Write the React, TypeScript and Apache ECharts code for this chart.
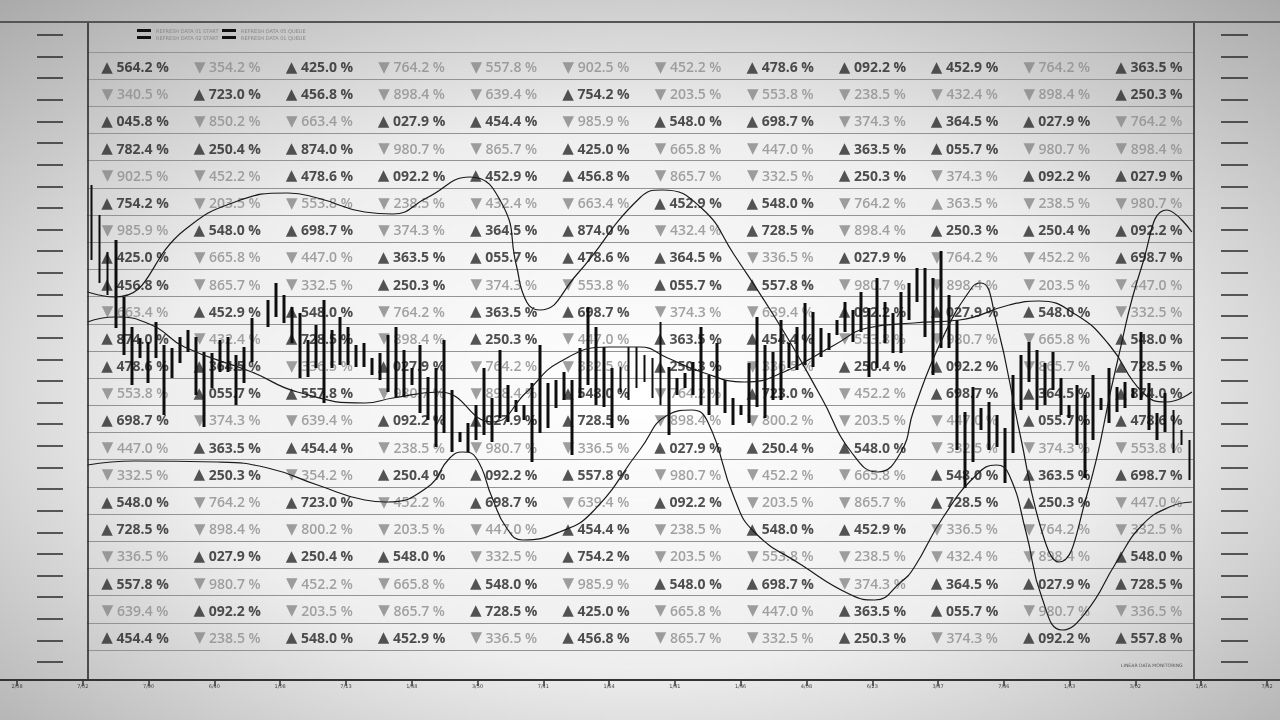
import React, { useEffect, useRef } from "react";
import * as echarts from "echarts";

// ---------- table data (22 rows x 12 columns) ----------
const rowValues: number[][] = [
  [564.2, 354.2, 425.0, 764.2, 557.8, 902.5, 452.2, 478.6, 92.2, 452.9, 764.2, 363.5],
  [340.5, 723.0, 456.8, 898.4, 639.4, 754.2, 203.5, 553.8, 238.5, 432.4, 898.4, 250.3],
  [45.8, 850.2, 663.4, 27.9, 454.4, 985.9, 548.0, 698.7, 374.3, 364.5, 27.9, 764.2],
  [782.4, 250.4, 874.0, 980.7, 865.7, 425.0, 665.8, 447.0, 363.5, 55.7, 980.7, 898.4],
  [902.5, 452.2, 478.6, 92.2, 452.9, 456.8, 865.7, 332.5, 250.3, 374.3, 92.2, 27.9],
  [754.2, 203.5, 553.8, 238.5, 432.4, 663.4, 452.9, 548.0, 764.2, 363.5, 238.5, 980.7],
  [985.9, 548.0, 698.7, 374.3, 364.5, 874.0, 432.4, 728.5, 898.4, 250.3, 250.4, 92.2],
  [425.0, 665.8, 447.0, 363.5, 55.7, 478.6, 364.5, 336.5, 27.9, 764.2, 452.2, 698.7],
  [456.8, 865.7, 332.5, 250.3, 374.3, 553.8, 55.7, 557.8, 980.7, 898.4, 203.5, 447.0],
  [663.4, 452.9, 548.0, 764.2, 363.5, 698.7, 374.3, 639.4, 92.2, 27.9, 548.0, 332.5],
  [874.0, 432.4, 728.5, 898.4, 250.3, 447.0, 363.5, 454.4, 553.8, 980.7, 665.8, 548.0],
  [478.6, 364.5, 336.5, 27.9, 764.2, 332.5, 250.3, 336.5, 250.4, 92.2, 865.7, 728.5],
  [553.8, 55.7, 557.8, 980.7, 898.4, 548.0, 764.2, 723.0, 452.2, 698.7, 364.5, 874.0],
  [698.7, 374.3, 639.4, 92.2, 27.9, 728.5, 898.4, 800.2, 203.5, 447.0, 55.7, 478.6],
  [447.0, 363.5, 454.4, 238.5, 980.7, 336.5, 27.9, 250.4, 548.0, 332.5, 374.3, 553.8],
  [332.5, 250.3, 354.2, 250.4, 92.2, 557.8, 980.7, 452.2, 665.8, 548.0, 363.5, 698.7],
  [548.0, 764.2, 723.0, 452.2, 698.7, 639.4, 92.2, 203.5, 865.7, 728.5, 250.3, 447.0],
  [728.5, 898.4, 800.2, 203.5, 447.0, 454.4, 238.5, 548.0, 452.9, 336.5, 764.2, 332.5],
  [336.5, 27.9, 250.4, 548.0, 332.5, 754.2, 203.5, 553.8, 238.5, 432.4, 898.4, 548.0],
  [557.8, 980.7, 452.2, 665.8, 548.0, 985.9, 548.0, 698.7, 374.3, 364.5, 27.9, 728.5],
  [639.4, 92.2, 203.5, 865.7, 728.5, 425.0, 665.8, 447.0, 363.5, 55.7, 980.7, 336.5],
  [454.4, 238.5, 548.0, 452.9, 336.5, 456.8, 865.7, 332.5, 250.3, 374.3, 92.2, 557.8],
];
// U = up (dark), D = down (grey), u = up (grey)
const rowTrends: string[] = [
  "UDUDDDDUUUDU",
  "DUUDDUDDDDDU",
  "UDDUUDUUDUUD",
  "UUUDDUDDUUDD",
  "DDUUUUDDUDUU",
  "UDDDDDUUDuDD",
  "DUUDUUDUDUUU",
  "UDDUUUUDUDDU",
  "UDDUDDUUDDDD",
  "DUUDUUDDUUUD",
  "UDUDUDUUDDDU",
  "UUDUDDUDUUDU",
  "DUUDDUDUDUUU",
  "UDDUUUDDDDUU",
  "DUUDDDUUUDDD",
  "DUDUUUDDDUUU",
  "UDUDUDUDDUUD",
  "UDDDDUDUUDDD",
  "DUUUDUDDDDDU",
  "UDDDUDUUDUUU",
  "DUDDUUDDUUDD",
  "UDUUDUDDUDUU",
];

// ---------- range bars (138 slots) ----------
const barHigh: (number | null)[] = [
  49.5, 46.5, 42.8, 44.0, 38.3, 35.3, 34.2, 33.8, 35.8, 33.5,
  33.2, 34.3, 35.0, 34.3, 32.8, 32.7, 34.0, 34.3, 32.5, 33.3,
  36.2, null, 38.0, 39.7, 38.5, 37.3, 36.7, 34.0, 35.5, 38.0,
  35.0, 36.3, 35.3, 33.5, 33.7, 32.2, 32.7, 34.5, 35.3, 33.0,
  31.2, 33.5, 30.3, 31.2, 34.0, 29.0, 24.8, 25.7, 27.5, 31.2,
  28.2, 33.0, 29.5, 28.0, 27.5, 29.7, 33.5, 29.7, 30.0, 30.8,
  30.0, 33.2, 37.3, 35.3, 33.3, 31.2, 31.3, 33.3, 33.3, 32.5,
  32.2, 35.8, 31.3, 30.2, 30.7, 31.8, 35.3, 30.5, 33.7, 30.0,
  28.2, 27.5, 31.7, 36.3, 33.5, 32.8, 36.0, 33.7, 35.3, 37.7,
  36.8, 35.2, 34.7, 36.0, 37.8, 37.0, 38.8, 37.2, 40.2, 37.8,
  36.7, 38.8, 39.7, 41.2, 41.2, 40.2, 42.9, 38.5, 36.0, 26.8,
  29.3, 27.2, 27.8, 26.5, 25.2, 30.5, 32.5, 33.8, 33.0, 31.7,
  32.8, 30.2, 27.5, 29.5, 28.5, 30.5, 28.2, 31.2, 29.3, 29.8,
  29.2, 34.8, 29.7, 26.7, 28.7, 27.0, 25.0, 24.0,
];
const barLow: (number | null)[] = [
  42.0, 39.7, 38.5, 35.2, 32.5, 29.5, 32.2, 29.7, 32.2, 26.5,
  30.2, 31.7, 32.8, 28.5, 25.3, 29.2, 30.8, 30.8, 27.5, 29.7,
  31.8, null, 35.3, 36.3, 35.7, 33.7, 30.2, 30.3, 31.2, 27.7,
  31.2, 31.5, 31.5, 31.3, 31.3, 30.5, 30.0, 28.8, 28.3, 28.3,
  29.5, 26.7, 26.0, 23.3, 24.7, 22.8, 23.8, 22.8, 24.0, 24.5,
  23.8, 26.2, 25.8, 26.8, 26.0, 21.8, 24.7, 25.2, 27.2, 28.0,
  22.5, 28.2, 29.5, 27.5, 27.3, 25.2, 28.8, 28.0, 29.2, 29.8,
  28.2, 27.5, 24.5, 28.5, 29.2, 28.5, 27.5, 26.5, 27.5, 26.7,
  25.5, 26.5, 25.7, 27.3, 26.2, 28.0, 28.0, 31.2, 31.0, 31.5,
  31.3, 32.3, 33.0, 34.5, 34.8, 33.8, 34.8, 30.3, 31.2, 33.7,
  32.7, 32.7, 36.0, 37.8, 34.3, 30.5, 33.2, 33.2, 23.0, 19.2,
  21.8, 25.0, 23.0, 23.3, 19.7, 22.7, 27.0, 29.8, 27.0, 27.5,
  29.0, 26.5, 26.2, 23.5, 20.2, 24.0, 27.0, 25.7, 26.8, 27.2,
  28.2, 28.0, 25.0, 24.0, 24.8, 22.7, 23.5, 20.0,
];

// ---------- smooth curves: [slot position, value] ----------
const curveA: number[][] = [
  [-0.5, 38.8], [2.9, 38.3], [11.6, 45.0], [17.9, 47.8], [24.5, 48.7], [28.2, 48.2],
  [34.1, 46.8], [37.6, 46.6], [41.8, 48.2], [47.2, 50.3], [51.3, 47.5], [53.0, 41.5],
  [54.3, 37.8], [55.9, 37.0], [60.5, 40.5], [68.4, 48.2], [71.2, 49.0], [76.1, 47.2],
  [80.2, 42.5], [86.4, 34.8], [91.1, 28.2], [94.8, 22.8], [98.1, 20.8], [101.0, 22.8],
  [102.6, 27.0], [106.2, 34.2], [109.9, 39.3], [111.0, 39.7], [112.9, 35.8], [115.8, 24.8],
  [118.6, 14.8], [120.7, 11.8], [124.1, 18.2], [127.9, 31.5], [131.1, 41.5], [134.2, 47.0],
  [137.3, 44.8],
];
const curveB: number[][] = [
  [-0.5, 35.8], [2.9, 36.3], [7.5, 35.5], [11.6, 33.3], [20.0, 30.8], [25.7, 28.8],
  [34.1, 27.7], [37.6, 28.2], [43.4, 28.8], [50.0, 25.8], [54.3, 28.8], [58.4, 31.8],
  [64.6, 33.3], [68.4, 33.3], [71.9, 32.2], [76.1, 30.8], [81.5, 29.8], [86.4, 30.8],
  [92.7, 33.5], [96.8, 35.2], [102.6, 35.7], [108.3, 36.0], [114.5, 37.5], [118.2, 37.9],
  [122.9, 36.5], [127.0, 33.5], [131.1, 28.8], [134.1, 27.8], [137.3, 28.8],
];
const curveC: number[][] = [
  [-0.5, 21.5], [5.4, 21.9], [15.7, 21.8], [22.0, 21.2], [28.2, 19.5], [34.1, 18.0],
  [36.8, 17.8], [41.8, 19.2], [44.7, 22.2], [46.3, 22.8], [48.0, 22.2], [50.0, 18.2],
  [51.8, 15.2], [53.8, 14.0], [58.4, 14.8], [62.5, 16.8], [68.4, 23.0], [71.9, 26.5],
  [74.9, 27.0], [76.9, 25.8], [80.2, 18.2], [82.7, 14.8], [88.6, 11.5], [94.8, 8.5],
  [97.7, 8.0], [101.0, 9.8], [102.6, 11.2], [106.2, 16.2], [110.4, 20.5], [112.9, 21.5],
  [114.5, 20.5], [116.6, 14.8], [118.6, 8.2], [121.1, 5.0], [124.1, 6.8], [127.9, 11.8],
  [131.1, 15.5], [134.5, 17.3], [137.3, 17.8],
];

// ---------- labels ----------
const timeLabels: string[] = [
  "2/08", "7/02", "7/90", "6/40", "1/08", "7/13", "1/48", "3/50", "7/41", "1/64",
  "1/41", "1/46", "4/08", "6/23", "3/47", "7/46", "1/63", "3/02", "1/56", "7/42",
];
const legendLeftNames = ["REFRESH DATA 01 START", "REFRESH DATA 02 START"];
const legendRightNames = ["REFRESH DATA 05 QUEUE", "REFRESH DATA 01 QUEUE"];
const footerText = "LINEAR DATA MONITORING";

export default function App() {
  const ref = useRef<HTMLDivElement>(null);

  useEffect(() => {
    const chart = echarts.init(ref.current!, null, { renderer: "svg" });

    const cellData: any[] = [];
    rowValues.forEach((row, r) => {
      row.forEach((v, c) => {
        cellData.push({ value: [c + 0.5, r + 0.5], v, trend: rowTrends[r][c] });
      });
    });

    const slotNames = barHigh.map((_, i) => String(i));
    const candleData = barHigh.map((hi, i) => {
      const lo = barLow[i];
      if (hi == null || lo == null) return ["-", "-", "-", "-"];
      return [lo, hi, lo, hi];
    });

    const curveStyle = { color: "#1a1a1a", width: 1.2 };
    const hidden = { show: false };
    const frameLine = { show: true, onZero: false, lineStyle: { color: "#222", width: 1.5 } };

    const option: any = {
      animation: false,
      backgroundColor: {
        type: "radial",
        x: 0.5,
        y: 0.55,
        r: 0.75,
        colorStops: [
          { offset: 0, color: "#ffffff" },
          { offset: 0.5, color: "#eeeeee" },
          { offset: 1, color: "#a8a8a8" },
        ],
      },
      title: {
        text: footerText,
        left: 1121,
        top: 663,
        padding: 0,
        textStyle: { fontSize: 4.6, color: "#555", fontWeight: "normal", fontFamily: "DejaVu Sans" },
      },
      legend: [
        {
          data: legendLeftNames,
          left: 137,
          top: 28,
          orient: "vertical",
          itemGap: 2,
          itemWidth: 14,
          itemHeight: 3,
          icon: "rect",
          padding: 0,
          textStyle: { fontSize: 5, color: "#888", fontFamily: "DejaVu Sans" },
        },
        {
          data: legendRightNames,
          left: 222,
          top: 28,
          orient: "vertical",
          itemGap: 2,
          itemWidth: 14,
          itemHeight: 3,
          icon: "rect",
          padding: 0,
          textStyle: { fontSize: 5, color: "#888", fontFamily: "DejaVu Sans" },
        },
      ],
      grid: [
        { left: 87, right: 87, top: 52, bottom: 70 },
        { left: 87.5, right: 86.5, top: 22, bottom: 40 },
        { left: 63, right: 59, top: 35, bottom: 58 },
        { left: 17, right: 13, top: 22, bottom: 40 },
        { left: 0, right: 0, top: 22, bottom: 40 },
      ],
      xAxis: [
        { gridIndex: 0, type: "value", min: 0, max: 12, show: false },
        { gridIndex: 1, type: "category", data: slotNames, show: false },
        { gridIndex: 1, type: "value", min: -0.5, max: 137.5, show: false },
        { gridIndex: 2, type: "value", min: 0, max: 1, show: false },
        {
          gridIndex: 3,
          type: "category",
          position: "bottom",
          data: timeLabels,
          boundaryGap: false,
          axisLine: { show: false, onZero: false },
          axisTick: { show: true, interval: 0, length: 6, lineStyle: { color: "#333", width: 1.5 } },
          axisLabel: { show: true, interval: 0, fontSize: 5, color: "#444", margin: 3, fontFamily: "DejaVu Sans" },
          splitLine: hidden,
        },
        {
          gridIndex: 4,
          type: "value",
          min: 0,
          max: 1,
          position: "bottom",
          axisLine: { show: true, onZero: false, lineStyle: { color: "#333", width: 2 } },
          axisTick: hidden,
          axisLabel: hidden,
          splitLine: hidden,
        },
        {
          gridIndex: 4,
          type: "value",
          min: 0,
          max: 1,
          position: "top",
          axisLine: { show: true, onZero: false, lineStyle: { color: "#555", width: 2 } },
          axisTick: hidden,
          axisLabel: hidden,
          splitLine: hidden,
        },
      ],
      yAxis: [
        {
          gridIndex: 0,
          type: "value",
          min: 0,
          max: 22,
          interval: 1,
          inverse: true,
          axisLine: hidden,
          axisTick: hidden,
          axisLabel: hidden,
          splitLine: { show: true, lineStyle: { color: "#939393", width: 1 } },
        },
        {
          gridIndex: 1,
          type: "value",
          min: 0,
          max: 65.8,
          position: "left",
          axisLine: frameLine,
          axisTick: hidden,
          axisLabel: hidden,
          splitLine: hidden,
        },
        {
          gridIndex: 1,
          type: "value",
          min: 0,
          max: 65.8,
          position: "right",
          axisLine: frameLine,
          axisTick: hidden,
          axisLabel: hidden,
          splitLine: hidden,
        },
        {
          gridIndex: 2,
          type: "value",
          min: 0,
          max: 29,
          interval: 1,
          position: "left",
          axisLine: { show: false, onZero: false },
          axisTick: { show: true, length: 26, lineStyle: { color: "#2a2a2a", width: 1.5 } },
          axisLabel: hidden,
          splitLine: hidden,
        },
        {
          gridIndex: 2,
          type: "value",
          min: 0,
          max: 29,
          interval: 1,
          position: "right",
          axisLine: { show: false, onZero: false },
          axisTick: { show: true, length: 27, lineStyle: { color: "#2a2a2a", width: 1.5 } },
          axisLabel: hidden,
          splitLine: hidden,
        },
        { gridIndex: 3, type: "value", min: 0, max: 1, show: false },
        { gridIndex: 4, type: "value", min: 0, max: 1, show: false },
      ],
      series: [
        {
          type: "scatter",
          xAxisIndex: 0,
          yAxisIndex: 0,
          symbolSize: 1,
          itemStyle: { color: "rgba(0,0,0,0)" },
          z: 2,
          data: cellData,
          label: {
            show: true,
            position: "inside",
            offset: [2, 1],
            fontSize: 14,
            fontFamily: "Open Sans",
            formatter: (p: any) => {
              const d = p.data;
              const dark = d.trend === "U";
              const arrow = d.trend === "D" ? "▼" : "▲";
              const num = d.v.toFixed(1).padStart(5, "0");
              const k = dark ? "u" : "d";
              return `{t${k}|${arrow}} {v${k}|${num} %}`;
            },
            rich: {
              tu: { fontSize: 15, color: "#2b2b2b", fontFamily: "DejaVu Sans" },
              td: { fontSize: 15, color: "#878787", fontFamily: "DejaVu Sans" },
              vu: { fontSize: 14, color: "#242424", fontWeight: 700, fontFamily: "Open Sans" },
              vd: { fontSize: 14, color: "#8c8c8c", fontWeight: 600, fontFamily: "Open Sans" },
            },
          },
        },
        {
          type: "candlestick",
          xAxisIndex: 1,
          yAxisIndex: 1,
          barWidth: 3.4,
          z: 5,
          itemStyle: {
            color: "#0e0e0e",
            color0: "#0e0e0e",
            borderColor: "#0e0e0e",
            borderColor0: "#0e0e0e",
            borderWidth: 0,
          },
          data: candleData,
        },
        {
          type: "line",
          name: "curve A",
          xAxisIndex: 2,
          yAxisIndex: 1,
          smooth: 0.5,
          symbol: "none",
          z: 6,
          lineStyle: curveStyle,
          data: curveA,
        },
        {
          type: "line",
          name: "curve B",
          xAxisIndex: 2,
          yAxisIndex: 1,
          smooth: 0.5,
          symbol: "none",
          z: 6,
          lineStyle: curveStyle,
          data: curveB,
        },
        {
          type: "line",
          name: "curve C",
          xAxisIndex: 2,
          yAxisIndex: 1,
          smooth: 0.5,
          symbol: "none",
          z: 6,
          lineStyle: curveStyle,
          data: curveC,
        },
        ...[...legendLeftNames, ...legendRightNames].map((name) => ({
          type: "line",
          name,
          xAxisIndex: 2,
          yAxisIndex: 1,
          color: "#111",
          symbol: "none",
          data: [],
        })),
      ],
    };

    chart.setOption(option);
    return () => chart.dispose();
  }, []);

  return (
    <div
      ref={ref}
      style={{ position: "fixed", left: 0, top: 0, width: 1280, height: 720 }}
    />
  );
}
